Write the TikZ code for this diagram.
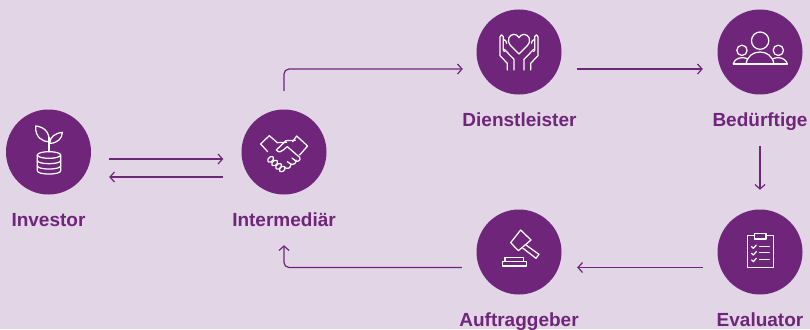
\documentclass[tikz,border=0pt]{standalone}
\usepackage{fontspec}
\setmainfont{Liberation Sans}
\usetikzlibrary{arrows.meta}
\definecolor{bgc}{HTML}{E1D5E6}
\definecolor{plum}{HTML}{6F2579}
\tikzset{
  disc/.style={circle,fill=plum,minimum size=85pt,inner sep=0pt,draw=none},
  lab/.style={anchor=base,text=plum,font=\fontsize{19}{22}\selectfont\bfseries,inner sep=0pt},
  flow/.style={draw=plum,line width=1.2pt,-{Straight Barb[length=4.5pt,width=10pt,line width=1.2pt]},rounded corners=5pt},
  icon/.style={draw=white,line width=1.25pt,line join=round,line cap=round,x=.3333pt,y=-.3333pt}
}
\begin{document}
\begin{tikzpicture}[x=1pt,y=-1pt]
\useasboundingbox (0,0) rectangle (810,329);
\fill[bgc] (0,0) rectangle (810,329);
\node[disc] (inv) at (48.5,152) {};
\node[disc] (int) at (284,152) {};
\node[disc] (die) at (519,52) {};
\node[disc] (bed) at (760,52) {};
\node[disc] (auf) at (519,252) {};
\node[disc] (eva) at (760,252) {};
\node[lab] (linv) at (48.5,226) {Investor};
\node[lab] (lint) at (284,226) {Intermediär};
\node[lab] (ldie) at (519.5,126) {Dienstleister};
\node[lab] (lbed) at (760,126) {Bedürftige};
\node[lab] (lauf) at (519,326) {Auftraggeber};
\node[lab] (leva) at (760,326) {Evaluator};
% connectors
\draw[flow] ([shift={(18,7)}]inv.east) -- ([shift={(-18,7)}]int.west);
\draw[flow] ([shift={(-18,25)}]int.west) -- ([shift={(18,25)}]inv.east);
\draw[flow] ([shift={(0,-18.5)}]int.north) |- ([shift={(-13.5,17)}]die.west);
\draw[flow] ([shift={(15.5,17)}]die.east) -- ([shift={(-14.5,17)}]bed.west);
\draw[flow] ([shift={(0,51)}]bed.south) -- ([shift={(0,-19.5)}]eva.north);
\draw[flow] ([shift={(-14.5,15.5)}]eva.west) -- ([shift={(15.5,15.5)}]auf.east);
\draw[flow] ([shift={(-14.5,15.5)}]auf.west) -| ([shift={(0,50.5)}]int.south);
% Investor icon
\begin{scope}[shift={(0,100)},icon]
  \draw (112,165) arc[start angle=180,end angle=540,x radius=35,y radius=10];
  \draw (112,165) -- (112,212) .. controls (112,218) and (125,222) .. (147,222) .. controls (169,222) and (182,218) .. (182,212) -- (182,165);
  \draw (112,181) .. controls (112,187) and (125,191) .. (147,191) .. controls (169,191) and (182,187) .. (182,181);
  \draw (112,197) .. controls (112,203) and (125,207) .. (147,207) .. controls (169,207) and (182,203) .. (182,197);
  \draw (147,155) -- (147,112);
  \draw (147,125) .. controls (125,125) and (105,110) .. (107,78) .. controls (130,80) and (150,95) .. (147,125);
  \draw (149,130) .. controls (150,110) and (165,100) .. (187,97) .. controls (187,115) and (172,130) .. (149,130);
\end{scope}
% Handshake icon
\begin{scope}[shift={(0,100)},icon]
  \draw (782,132) -- (808,107) -- (832,128) -- (860,127);
  \draw (782,132) -- (803,155);
  \draw (878,125) -- (890,108) -- (923,138) -- (899,165);
  \draw (886,121) -- (858,122) -- (829,150) .. controls (835,158) and (845,157) .. (850,150) -- (862,140) -- (899,172) .. controls (904,180) and (893,188) .. (886,182) -- (876,174);
  \draw (888,180) .. controls (890,190) and (880,196) .. (872,192) -- (862,185);
  \draw (873,193) .. controls (872,205) and (862,208) .. (855,203);
  \foreach \cx/\cy in {812/178,824/189,836/199,847/207}
    \draw[rounded corners=1.8pt] (\cx+11.5,\cy-2.5) -- (\cx+2.5,\cy-11.5) -- (\cx-11.5,\cy+2.5) -- (\cx-2.5,\cy+11.5) -- cycle;
\end{scope}
% Hands and heart icon
\begin{scope}[shift={(450,0)},icon]
  \draw (207,162) -- (182,137) .. controls (168,120) and (178,103) .. (192,103) .. controls (198,103) and (204,107) .. (207,113) .. controls (210,107) and (216,103) .. (222,103) .. controls (236,103) and (246,120) .. (232,137) -- cycle;
  \draw (172,210) -- (172,190) -- (150,167) -- (150,110) .. controls (150,103) and (160,103) .. (160,110) -- (160,150) -- (163,155);
  \draw (160,118) .. controls (165,118) and (170,125) .. (170,130);
  \draw (163,148) -- (192,178) -- (192,210);
  \draw (242,210) -- (242,190) -- (264,167) -- (264,110) .. controls (264,103) and (254,103) .. (254,110) -- (254,150) -- (251,155);
  \draw (254,118) .. controls (249,118) and (244,125) .. (244,130);
  \draw (251,148) -- (222,178) -- (222,210);
\end{scope}
% People icon
\begin{scope}[shift={(450,0)},icon]
  \draw (930.5,122) circle[radius=26];
  \draw (876,151) circle[radius=15.5];
  \draw (985,151) circle[radius=15.5];
  \draw (850,192) -- (1012,192);
  \draw (888,192) .. controls (892,168) and (910,156) .. (930,156) .. controls (950,156) and (968,168) .. (972,192);
  \draw (850,192) .. controls (853,180) and (862,174) .. (876,173) .. controls (882,173) and (888,174) .. (893,177);
  \draw (1012,192) .. controls (1009,180) and (1000,174) .. (985,173) .. controls (979,173) and (973,174) .. (968,177);
\end{scope}
% Gavel icon
\begin{scope}[shift={(450,200)},icon]
  \draw (182,128) -- (212,90) -- (243,120) -- (205,152) -- cycle;
  \draw (228,135) -- (267,163) -- (258,175) -- (218,144);
  \draw (158,198) -- (230,198) -- (230,184) -- (158,184) -- cycle;
  \draw (165,184) -- (165,172) -- (221,172) -- (221,184);
\end{scope}
% Clipboard icon
\begin{scope}[shift={(450,200)},icon]
  \draw (914,106) -- (892,106) -- (892,202) -- (970,202) -- (970,106) -- (948,106);
  \draw (914,100) rectangle (948,117);
  \draw (905,140) -- (910,145) -- (919,135);
  \draw (905,160) -- (910,165) -- (919,155);
  \draw (905,180) -- (910,185) -- (919,175);
  \draw (929,140) -- (958,140);
  \draw (929,158) -- (958,158);
  \draw (929,178) -- (958,178);
\end{scope}
\end{tikzpicture}
\end{document}
